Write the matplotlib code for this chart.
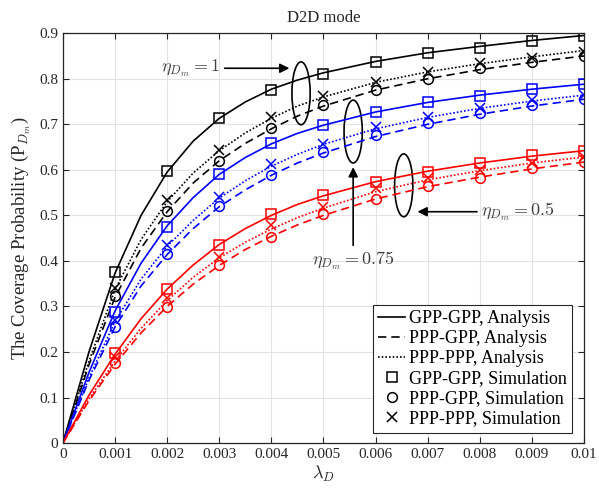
import matplotlib
matplotlib.use('Agg')
import matplotlib.pyplot as plt
from matplotlib.patches import Ellipse
from matplotlib.lines import Line2D

plt.rcParams['font.family'] = ['Liberation Serif', 'DejaVu Serif']
plt.rcParams['mathtext.fontset'] = 'cm'

# DATA GOES HERE
x_sim = [0.001, 0.002, 0.003, 0.004, 0.005, 0.006, 0.007, 0.008, 0.009, 0.01]
x_ana = [0, 0.0005, 0.001, 0.0015, 0.002, 0.0025, 0.003, 0.0035, 0.004, 0.0045,
         0.005, 0.006, 0.007, 0.008, 0.009, 0.01]

# eta = 1 (black)
gg_sim_1 = [0.376, 0.597, 0.713, 0.775, 0.811, 0.837, 0.856, 0.867, 0.883, 0.893]
pg_sim_1 = [0.323, 0.510, 0.620, 0.691, 0.742, 0.775, 0.800, 0.823, 0.837, 0.849]
pp_sim_1 = [0.340, 0.533, 0.643, 0.716, 0.762, 0.792, 0.815, 0.835, 0.845, 0.859]
gg_ana_1 = [0, 0.200, 0.373, 0.500, 0.595, 0.663, 0.713, 0.749, 0.777, 0.797,
            0.813, 0.838, 0.857, 0.871, 0.884, 0.895]
pg_ana_1 = [0, 0.172, 0.320, 0.428, 0.508, 0.571, 0.620, 0.658, 0.690, 0.718,
            0.740, 0.775, 0.800, 0.820, 0.836, 0.850]
pp_ana_1 = [0, 0.180, 0.337, 0.447, 0.530, 0.593, 0.642, 0.681, 0.713, 0.740,
            0.760, 0.792, 0.815, 0.833, 0.848, 0.862]

# eta = 0.75 (blue)
gg_sim_075 = [0.288, 0.475, 0.590, 0.658, 0.698, 0.726, 0.748, 0.762, 0.777, 0.788]
pg_sim_075 = [0.254, 0.416, 0.521, 0.588, 0.639, 0.676, 0.702, 0.724, 0.742, 0.755]
pp_sim_075 = [0.270, 0.435, 0.541, 0.612, 0.656, 0.694, 0.715, 0.735, 0.753, 0.764]
gg_ana_075 = [0, 0.155, 0.290, 0.395, 0.477, 0.539, 0.590, 0.627, 0.657, 0.680,
              0.698, 0.727, 0.748, 0.764, 0.777, 0.788]
pg_ana_075 = [0, 0.138, 0.255, 0.345, 0.414, 0.471, 0.519, 0.556, 0.588, 0.615,
              0.637, 0.673, 0.700, 0.722, 0.740, 0.755]
pp_ana_075 = [0, 0.143, 0.267, 0.360, 0.432, 0.489, 0.538, 0.576, 0.608, 0.634,
              0.656, 0.690, 0.715, 0.735, 0.751, 0.764]

# eta = 0.5 (red)
gg_sim_05 = [0.197, 0.338, 0.436, 0.504, 0.544, 0.574, 0.596, 0.614, 0.632, 0.642]
pg_sim_05 = [0.175, 0.299, 0.391, 0.453, 0.504, 0.537, 0.565, 0.583, 0.603, 0.617]
pp_sim_05 = [0.189, 0.318, 0.409, 0.478, 0.519, 0.560, 0.582, 0.599, 0.614, 0.628]
gg_ana_05 = [0, 0.105, 0.195, 0.273, 0.338, 0.391, 0.436, 0.471, 0.500, 0.524,
             0.543, 0.574, 0.597, 0.615, 0.630, 0.642]
pg_ana_05 = [0, 0.093, 0.173, 0.242, 0.300, 0.349, 0.390, 0.425, 0.454, 0.479,
             0.500, 0.536, 0.563, 0.584, 0.602, 0.617]
pp_ana_05 = [0, 0.097, 0.180, 0.252, 0.313, 0.364, 0.407, 0.441, 0.470, 0.495,
             0.516, 0.552, 0.578, 0.598, 0.615, 0.628]

groups = [
    ('k', gg_ana_1, pg_ana_1, pp_ana_1, gg_sim_1, pg_sim_1, pp_sim_1),
    ('b', gg_ana_075, pg_ana_075, pp_ana_075, gg_sim_075, pg_sim_075, pp_sim_075),
    ('r', gg_ana_05, pg_ana_05, pp_ana_05, gg_sim_05, pg_sim_05, pp_sim_05),
]

fig = plt.figure(figsize=(5.99, 4.88), dpi=100)
ax = fig.add_axes([0.105, 0.092, 0.870, 0.840])

lw = 1.2
ms = 7
dash = (0, (5, 3))
dot = (0, (1, 1.2))
for c, gga, pga, ppa, ggs, pgs, pps in groups:
    ax.plot(x_ana, gga, color=c, ls='-', lw=lw)
    ax.plot(x_ana, pga, color=c, ls=dash, lw=lw)
    ax.plot(x_ana, ppa, color=c, ls=dot, lw=lw)
    ax.plot(x_sim, ggs, ls='none', marker='s', ms=ms, mfc='none', mec=c, mew=1.1)
    ax.plot(x_sim, pgs, ls='none', marker='o', ms=ms, mfc='none', mec=c, mew=1.1)
    ax.plot(x_sim, pps, ls='none', marker='x', ms=ms, mec=c, mew=1.1)

ax.set_xlim(0, 0.01)
ax.set_ylim(0, 0.9)
ax.set_xticks([i / 1000 for i in range(11)])
ax.set_xticklabels(['0', '0.001', '0.002', '0.003', '0.004', '0.005', '0.006',
                    '0.007', '0.008', '0.009', '0.01'])
ax.set_yticks([i / 10 for i in range(10)])
ax.set_yticklabels(['0', '0.1', '0.2', '0.3', '0.4', '0.5', '0.6', '0.7', '0.8', '0.9'])
ax.tick_params(direction='in', top=True, right=True, labelsize=11, colors='#262626', length=4)
ax.grid(True, color='#e3e3e3', lw=0.8)
ax.set_axisbelow(True)
for sp in ax.spines.values():
    sp.set_color('#262626')
    sp.set_linewidth(0.9)

ax.set_title('D2D mode', fontsize=12, color='#262626', pad=8)
ax.set_xlabel(r'$\lambda_D$', fontsize=13, color='#262626', labelpad=2)
ax.set_ylabel(r'The Coverage Probability (P$_{D_m}$)', fontsize=13.5, color='#262626', labelpad=4)

# ellipses and annotations
tc = '#404040'
for cx, cy in [(0.00457, 0.768), (0.00557, 0.684), (0.00654, 0.566)]:
    ax.add_patch(Ellipse((cx, cy), 0.00035, 0.138, fill=False, ec='k', lw=1.2))

arr = dict(arrowstyle='-|>', color='k', lw=1.2, mutation_scale=14)
ax.annotate('', xy=(0.0044, 0.823), xytext=(0.00305, 0.823), arrowprops=arr)
ax.text(0.00302, 0.823, r'$\eta_{D_m} = 1$', ha='right', va='center', fontsize=13, color=tc)
ax.annotate('', xy=(0.00557, 0.612), xytext=(0.00557, 0.428), arrowprops=arr)
ax.text(0.00557, 0.400, r'$\eta_{D_m} = 0.75$', ha='center', va='center', fontsize=13, color=tc)
ax.annotate('', xy=(0.00675, 0.508), xytext=(0.0080, 0.508), arrowprops=arr)
ax.text(0.00803, 0.508, r'$\eta_{D_m} = 0.5$', ha='left', va='center', fontsize=13, color=tc)

handles = [
    Line2D([], [], color='k', ls='-', lw=lw),
    Line2D([], [], color='k', ls=dash, lw=lw),
    Line2D([], [], color='k', ls=dot, lw=lw),
    Line2D([], [], color='k', ls='none', marker='s', ms=ms, mfc='none', mew=1.1),
    Line2D([], [], color='k', ls='none', marker='o', ms=ms, mfc='none', mew=1.1),
    Line2D([], [], color='k', ls='none', marker='x', ms=ms, mew=1.1),
]
labels = ['GPP-GPP, Analysis', 'PPP-GPP, Analysis', 'PPP-PPP, Analysis',
          'GPP-GPP, Simulation', 'PPP-GPP, Simulation', 'PPP-PPP, Simulation']
leg = ax.legend(handles, labels, loc='lower right', fontsize=13, fancybox=False,
                edgecolor='#262626', framealpha=1, handlelength=1.5,
                handletextpad=0.2, labelspacing=0.17, borderpad=0.3,
                borderaxespad=0.0, bbox_to_anchor=(0.977, 0.025))
leg.get_frame().set_linewidth(0.8)

plt.savefig('out.png', dpi=100)
